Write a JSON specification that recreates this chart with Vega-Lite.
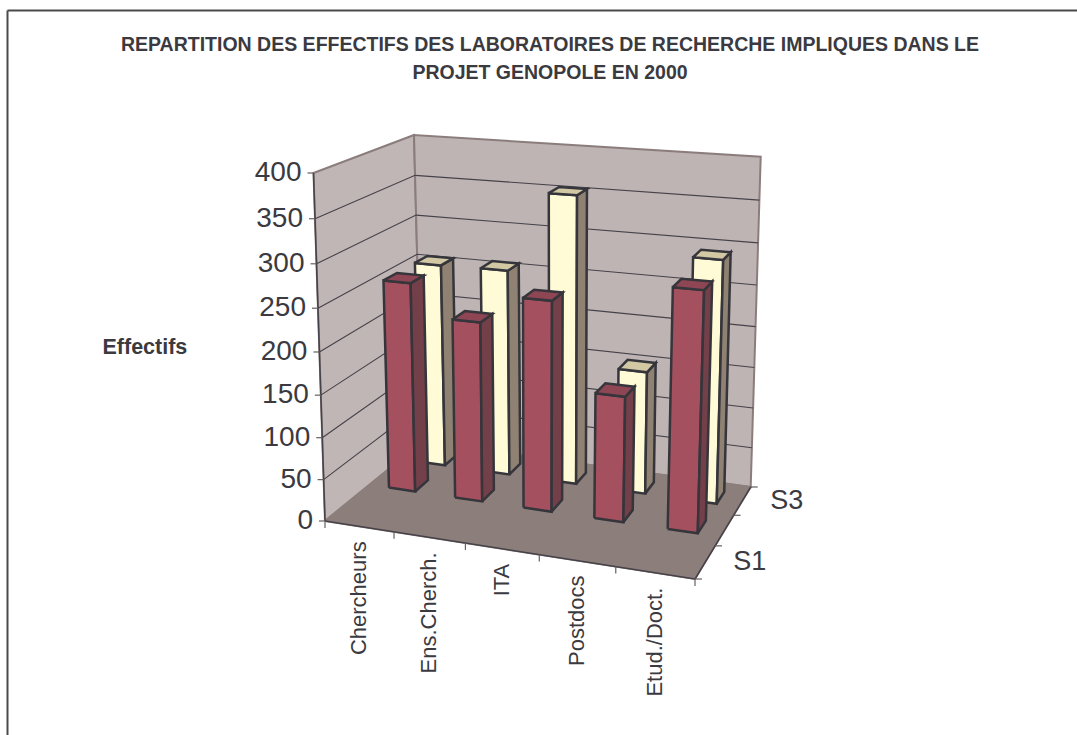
{
"$schema":"https://vega.github.io/schema/vega-lite/v6.json",
"autosize":{"type":"none"},
"padding":{"left":7,"top":10,"right":0,"bottom":0},
"width":1070,"height":725,
"background":"white",
"config":{"view":{"stroke":null}},
"title":{"text":["REPARTITION DES EFFECTIFS DES LABORATOIRES DE RECHERCHE IMPLIQUES DANS LE","PROJET GENOPOLE EN 2000"],"font":"Liberation Sans","fontSize":19.5,"fontWeight":"bold","color":"#3a3a40","anchor":"middle","dx":8,"dy":77,"lineHeight":28},
"datasets":{
"barres":[
{"categorie":"Chercheurs","serie":"S3","effectif":256},
{"categorie":"Ens.Cherch.","serie":"S3","effectif":257},
{"categorie":"ITA","serie":"S3","effectif":354},
{"categorie":"Postdocs","serie":"S3","effectif":151},
{"categorie":"Etud./Doct.","serie":"S3","effectif":293},
{"categorie":"Chercheurs","serie":"S2","effectif":256},
{"categorie":"Ens.Cherch.","serie":"S2","effectif":218},
{"categorie":"ITA","serie":"S2","effectif":252},
{"categorie":"Postdocs","serie":"S2","effectif":150},
{"categorie":"Etud./Doct.","serie":"S2","effectif":281}
],
"graduations":[{"valeur":0},{"valeur":50},{"valeur":100},{"valeur":150},{"valeur":200},{"valeur":250},{"valeur":300},{"valeur":350},{"valeur":400}]
},
"layer":[
{"data":{"values":[{"plan":"gauche"},{"plan":"fond"},{"plan":"sol"}]},
"transform":[
{"calculate":"[0,1,2,3,4]","as":"coins"},{"flatten":["coins"],"as":["coin"]},
{"calculate":"[0,1,1,0,0][datum.coin]","as":"p"},{"calculate":"[0,0,1,1,0][datum.coin]","as":"q"},
{"calculate":"datum.plan=='gauche'?0:datum.p","as":"U"},
{"calculate":"datum.plan=='gauche'?datum.p:(datum.plan=='fond'?1:datum.q)","as":"V"},
{"calculate":"datum.plan=='sol'?0:datum.q","as":"H"},
{"calculate":"datum.U/(datum.U+(1-datum.U)*1.09)","as":"a"},
{"calculate":"datum.V/(datum.V+(1-datum.V)*0.888)","as":"b"},
{"calculate":"datum.H/(datum.H+(1-datum.H)*1.059)","as":"c"},
{"calculate":"(1-datum.c)*((1-datum.b)*(325+370*datum.a)+datum.b*(422+328.7*datum.a))+datum.c*((1-datum.b)*(313.5+392.5*datum.a)+datum.b*(414+346.7*datum.a))","as":"px"},
{"calculate":"(1-datum.c)*((1-datum.b)*(521+58*datum.a)+datum.b*(442+45*datum.a))+datum.c*((1-datum.b)*(173+32*datum.a)+datum.b*(135+21.7*datum.a))","as":"py"}
],
"mark":{"type":"line","strokeWidth":2,"strokeJoin":"miter"},
"encoding":{
"x":{"field":"px","type":"quantitative","scale":{"domain":[7,1077],"range":[0,1070],"nice":false,"zero":false},"axis":{"orient":"top","title":null,"labels":false,"ticks":false,"grid":false,"domain":true,"domainColor":"#4a4a4a","domainWidth":2}},
"y":{"field":"py","type":"quantitative","scale":{"domain":[10,735],"range":[0,725],"nice":false,"zero":false},"axis":{"orient":"left","title":"Effectifs","titleAngle":0,"titleX":95,"titleY":337,"titleAlign":"left","titleBaseline":"middle","titleFont":"Liberation Sans","titleFontSize":21.5,"titleFontWeight":"bold","titleColor":"#3a3a40","labels":false,"ticks":false,"grid":false,"domain":true,"domainColor":"#4a4a4a","domainWidth":2}},
"order":{"field":"coin"},
"fill":{"field":"plan","type":"nominal","scale":{"domain":["gauche","fond","sol"],"range":["#BFB6B5","#BEB4B3","#8C7F7B"]},"legend":null},
"stroke":{"field":"plan","type":"nominal","scale":{"domain":["gauche","fond","sol"],"range":["#8C7D7D","#8C7D7D","#8C7F7B"]},"legend":null}
}},
{"data":{"name":"graduations"},
"transform":[
{"filter":"datum.valeur>0 && datum.valeur<400"},
{"calculate":"[0,1,2]","as":"coins"},{"flatten":["coins"],"as":["coin"]},
{"calculate":"datum.coin==2?1:0","as":"U"},
{"calculate":"datum.coin==0?0:1","as":"V"},
{"calculate":"datum.valeur/400","as":"H"},
{"calculate":"datum.U/(datum.U+(1-datum.U)*1.09)","as":"a"},
{"calculate":"datum.V/(datum.V+(1-datum.V)*0.888)","as":"b"},
{"calculate":"datum.H/(datum.H+(1-datum.H)*1.059)","as":"c"},
{"calculate":"(1-datum.c)*((1-datum.b)*(325+370*datum.a)+datum.b*(422+328.7*datum.a))+datum.c*((1-datum.b)*(313.5+392.5*datum.a)+datum.b*(414+346.7*datum.a))","as":"px"},
{"calculate":"(1-datum.c)*((1-datum.b)*(521+58*datum.a)+datum.b*(442+45*datum.a))+datum.c*((1-datum.b)*(173+32*datum.a)+datum.b*(135+21.7*datum.a))","as":"py"}
],
"mark":{"type":"line","stroke":"#46424a","strokeWidth":1.1},
"encoding":{"x":{"field":"px","type":"quantitative","axis":null},"y":{"field":"py","type":"quantitative","axis":null},"detail":{"field":"valeur"},"order":{"field":"coin"}}
},
{"data":{"values":[{"arete":"valeur"},{"arete":"avant"},{"arete":"droite"}]},
"transform":[
{"calculate":"[0,1]","as":"coins"},{"flatten":["coins"],"as":["coin"]},
{"calculate":"datum.arete=='valeur'?0:(datum.arete=='avant'?datum.coin:1)","as":"U"},
{"calculate":"datum.arete=='droite'?datum.coin:0","as":"V"},
{"calculate":"datum.arete=='valeur'?datum.coin:0","as":"H"},
{"calculate":"datum.U/(datum.U+(1-datum.U)*1.09)","as":"a"},
{"calculate":"datum.V/(datum.V+(1-datum.V)*0.888)","as":"b"},
{"calculate":"datum.H/(datum.H+(1-datum.H)*1.059)","as":"c"},
{"calculate":"(1-datum.c)*((1-datum.b)*(325+370*datum.a)+datum.b*(422+328.7*datum.a))+datum.c*((1-datum.b)*(313.5+392.5*datum.a)+datum.b*(414+346.7*datum.a))","as":"px"},
{"calculate":"(1-datum.c)*((1-datum.b)*(521+58*datum.a)+datum.b*(442+45*datum.a))+datum.c*((1-datum.b)*(173+32*datum.a)+datum.b*(135+21.7*datum.a))","as":"py"}
],
"mark":{"type":"line","stroke":"#46424a","strokeWidth":1.5},
"encoding":{"x":{"field":"px","type":"quantitative","axis":null},"y":{"field":"py","type":"quantitative","axis":null},"detail":{"field":"arete"},"order":{"field":"coin"}}
},
{"data":{"name":"barres"},
"transform":[
{"calculate":"['avant','cote','dessus']","as":"faces"},{"flatten":["faces"],"as":["face"]},
{"calculate":"[0,1,2,3,4]","as":"coins"},{"flatten":["coins"],"as":["coin"]},
{"calculate":"[0,1,1,0,0][datum.coin]","as":"p"},{"calculate":"[0,0,1,1,0][datum.coin]","as":"q"},
{"calculate":"(indexof(['Chercheurs','Ens.Cherch.','ITA','Postdocs','Etud./Doct.'],datum.categorie)+0.5)/5","as":"uc"},
{"calculate":"(indexof(['S1','S2','S3'],datum.serie)+0.5)/3","as":"vc"},
{"calculate":"datum.uc-0.04+0.08*(datum.face=='cote'?1:datum.p)","as":"U"},
{"calculate":"datum.vc-0.07+0.14*(datum.face=='avant'?0:(datum.face=='cote'?datum.p:datum.q))","as":"V"},
{"calculate":"(datum.face=='dessus'?1:datum.q)*datum.effectif/400","as":"H"},
{"calculate":"datum.categorie+datum.serie+datum.face","as":"poly"},
{"calculate":"datum.serie+datum.face","as":"teinte"},
{"calculate":"datum.U/(datum.U+(1-datum.U)*1.09)","as":"a"},
{"calculate":"datum.V/(datum.V+(1-datum.V)*0.888)","as":"b"},
{"calculate":"datum.H/(datum.H+(1-datum.H)*1.059)","as":"c"},
{"calculate":"(1-datum.c)*((1-datum.b)*(325+370*datum.a)+datum.b*(422+328.7*datum.a))+datum.c*((1-datum.b)*(313.5+392.5*datum.a)+datum.b*(414+346.7*datum.a))","as":"px"},
{"calculate":"(1-datum.c)*((1-datum.b)*(521+58*datum.a)+datum.b*(442+45*datum.a))+datum.c*((1-datum.b)*(173+32*datum.a)+datum.b*(135+21.7*datum.a))","as":"py"}
],
"mark":{"type":"line","stroke":"#35353b","strokeWidth":2.5,"strokeJoin":"miter"},
"encoding":{"x":{"field":"px","type":"quantitative","axis":null},"y":{"field":"py","type":"quantitative","axis":null},"detail":{"field":"poly"},"order":{"field":"coin"},
"fill":{"field":"teinte","type":"nominal","scale":{"domain":["S2avant","S2cote","S2dessus","S3avant","S3cote","S3dessus"],"range":["#A5505F","#733F49","#8E4655","#FFFBD7","#8F8272","#D2C8A4"]},"legend":null}}
},
{"data":{"name":"graduations"},
"transform":[
{"calculate":"0","as":"U"},{"calculate":"0","as":"V"},{"calculate":"datum.valeur/400","as":"H"},
{"calculate":"datum.U/(datum.U+(1-datum.U)*1.09)","as":"a"},
{"calculate":"datum.V/(datum.V+(1-datum.V)*0.888)","as":"b"},
{"calculate":"datum.H/(datum.H+(1-datum.H)*1.059)","as":"c"},
{"calculate":"(1-datum.c)*((1-datum.b)*(325+370*datum.a)+datum.b*(422+328.7*datum.a))+datum.c*((1-datum.b)*(313.5+392.5*datum.a)+datum.b*(414+346.7*datum.a))","as":"px"},
{"calculate":"(1-datum.c)*((1-datum.b)*(521+58*datum.a)+datum.b*(442+45*datum.a))+datum.c*((1-datum.b)*(173+32*datum.a)+datum.b*(135+21.7*datum.a))","as":"py"},
{"calculate":"datum.px-6","as":"px2"},{"calculate":"datum.px-12","as":"pt"}
],
"layer":[
{"mark":{"type":"rule","stroke":"#66605f","strokeWidth":1.2},"encoding":{"x":{"field":"px","type":"quantitative","axis":null},"x2":{"field":"px2"},"y":{"field":"py","type":"quantitative","axis":null}}},
{"mark":{"type":"text","font":"Liberation Sans","fontSize":28,"align":"right","baseline":"middle","fill":"#3a3a40"},"encoding":{"x":{"field":"pt","type":"quantitative","axis":null},"y":{"field":"py","type":"quantitative","axis":null},"text":{"field":"valeur","type":"quantitative"}}}
]},
{"data":{"values":[{"k":0},{"k":1},{"k":2},{"k":3},{"k":4},{"k":5}]},
"transform":[
{"calculate":"datum.k/5","as":"U"},{"calculate":"0","as":"V"},{"calculate":"0","as":"H"},
{"calculate":"datum.U/(datum.U+(1-datum.U)*1.09)","as":"a"},
{"calculate":"datum.V/(datum.V+(1-datum.V)*0.888)","as":"b"},
{"calculate":"datum.H/(datum.H+(1-datum.H)*1.059)","as":"c"},
{"calculate":"(1-datum.c)*((1-datum.b)*(325+370*datum.a)+datum.b*(422+328.7*datum.a))+datum.c*((1-datum.b)*(313.5+392.5*datum.a)+datum.b*(414+346.7*datum.a))","as":"px"},
{"calculate":"(1-datum.c)*((1-datum.b)*(521+58*datum.a)+datum.b*(442+45*datum.a))+datum.c*((1-datum.b)*(173+32*datum.a)+datum.b*(135+21.7*datum.a))","as":"py"},
{"calculate":"datum.py+7","as":"py2"}
],
"mark":{"type":"rule","stroke":"#66605f","strokeWidth":1.2},
"encoding":{"x":{"field":"px","type":"quantitative","axis":null},"y":{"field":"py","type":"quantitative","axis":null},"y2":{"field":"py2"}}
},
{"data":{"values":[{"k":0},{"k":1},{"k":2},{"k":3}]},
"transform":[
{"calculate":"1","as":"U"},{"calculate":"datum.k/3","as":"V"},{"calculate":"0","as":"H"},
{"calculate":"datum.U/(datum.U+(1-datum.U)*1.09)","as":"a"},
{"calculate":"datum.V/(datum.V+(1-datum.V)*0.888)","as":"b"},
{"calculate":"datum.H/(datum.H+(1-datum.H)*1.059)","as":"c"},
{"calculate":"(1-datum.c)*((1-datum.b)*(325+370*datum.a)+datum.b*(422+328.7*datum.a))+datum.c*((1-datum.b)*(313.5+392.5*datum.a)+datum.b*(414+346.7*datum.a))","as":"px"},
{"calculate":"(1-datum.c)*((1-datum.b)*(521+58*datum.a)+datum.b*(442+45*datum.a))+datum.c*((1-datum.b)*(173+32*datum.a)+datum.b*(135+21.7*datum.a))","as":"py"},
{"calculate":"datum.px+7","as":"px2"}
],
"mark":{"type":"rule","stroke":"#66605f","strokeWidth":1.2},
"encoding":{"x":{"field":"px","type":"quantitative","axis":null},"x2":{"field":"px2"},"y":{"field":"py","type":"quantitative","axis":null}}
},
{"data":{"name":"barres"},
"transform":[
{"filter":"datum.serie=='S2'"},
{"calculate":"(indexof(['Chercheurs','Ens.Cherch.','ITA','Postdocs','Etud./Doct.'],datum.categorie)+0.5)/5","as":"U"},{"calculate":"0","as":"V"},{"calculate":"0","as":"H"},
{"calculate":"datum.U/(datum.U+(1-datum.U)*1.09)","as":"a"},
{"calculate":"datum.V/(datum.V+(1-datum.V)*0.888)","as":"b"},
{"calculate":"datum.H/(datum.H+(1-datum.H)*1.059)","as":"c"},
{"calculate":"(1-datum.c)*((1-datum.b)*(325+370*datum.a)+datum.b*(422+328.7*datum.a))+datum.c*((1-datum.b)*(313.5+392.5*datum.a)+datum.b*(414+346.7*datum.a))","as":"px"},
{"calculate":"(1-datum.c)*((1-datum.b)*(521+58*datum.a)+datum.b*(442+45*datum.a))+datum.c*((1-datum.b)*(173+32*datum.a)+datum.b*(135+21.7*datum.a))+15","as":"py"}
],
"mark":{"type":"text","font":"Liberation Sans","fontSize":22,"angle":270,"align":"right","baseline":"middle","fill":"#3a3a40"},
"encoding":{"x":{"field":"px","type":"quantitative","axis":null},"y":{"field":"py","type":"quantitative","axis":null},"text":{"field":"categorie","type":"nominal"}}
},
{"data":{"values":[{"serie":"S1"},{"serie":"S3"}]},
"transform":[
{"calculate":"1","as":"U"},{"calculate":"(indexof(['S1','S2','S3'],datum.serie)+0.5)/3","as":"V"},{"calculate":"0","as":"H"},
{"calculate":"datum.U/(datum.U+(1-datum.U)*1.09)","as":"a"},
{"calculate":"datum.V/(datum.V+(1-datum.V)*0.888)","as":"b"},
{"calculate":"datum.H/(datum.H+(1-datum.H)*1.059)","as":"c"},
{"calculate":"(1-datum.c)*((1-datum.b)*(325+370*datum.a)+datum.b*(422+328.7*datum.a))+datum.c*((1-datum.b)*(313.5+392.5*datum.a)+datum.b*(414+346.7*datum.a))+28","as":"px"},
{"calculate":"(1-datum.c)*((1-datum.b)*(521+58*datum.a)+datum.b*(442+45*datum.a))+datum.c*((1-datum.b)*(173+32*datum.a)+datum.b*(135+21.7*datum.a))","as":"py"}
],
"mark":{"type":"text","font":"Liberation Sans","fontSize":27,"align":"left","baseline":"middle","fill":"#3a3a40"},
"encoding":{"x":{"field":"px","type":"quantitative","axis":null},"y":{"field":"py","type":"quantitative","axis":null},"text":{"field":"serie","type":"nominal"}}
}
],
"resolve":{"scale":{"fill":"independent","stroke":"independent"},"axis":{"x":"independent","y":"independent"}}
}
